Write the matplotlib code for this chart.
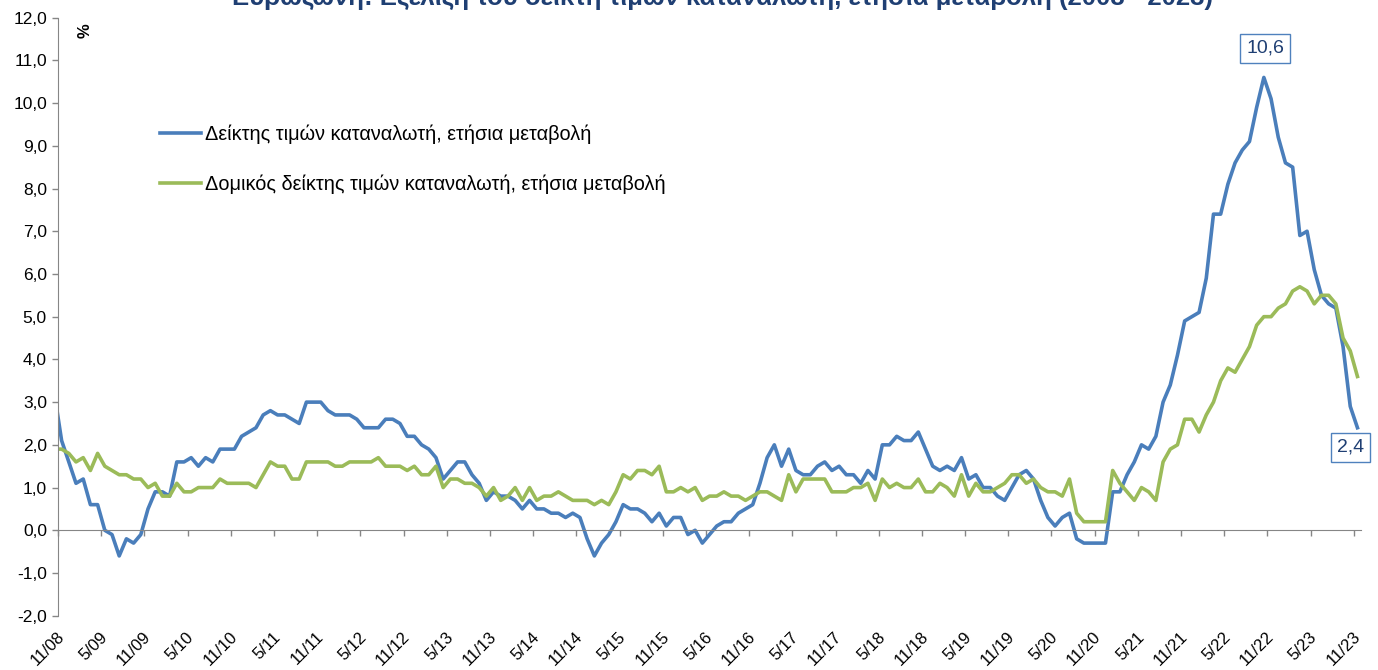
import numpy as np
import matplotlib
matplotlib.use("Agg")
import matplotlib.pyplot as plt
from matplotlib.ticker import FuncFormatter
from matplotlib.transforms import ScaledTranslation

plt.rcParams["font.family"] = ["Liberation Sans", "DejaVu Sans"]

# monthly data, 10/08 ... 11/23 (first month only partly visible)
cpi = [
    3.2, 2.1, 1.6,
    1.1, 1.2, 0.6, 0.6, 0.0, -0.1, -0.6, -0.2, -0.3, -0.1, 0.5, 0.9,
    0.9, 0.8, 1.6, 1.6, 1.7, 1.5, 1.7, 1.6, 1.9, 1.9, 1.9, 2.2,
    2.3, 2.4, 2.7, 2.8, 2.7, 2.7, 2.6, 2.5, 3.0, 3.0, 3.0, 2.8,
    2.7, 2.7, 2.7, 2.6, 2.4, 2.4, 2.4, 2.6, 2.6, 2.5, 2.2, 2.2,
    2.0, 1.9, 1.7, 1.2, 1.4, 1.6, 1.6, 1.3, 1.1, 0.7, 0.9, 0.8,
    0.8, 0.7, 0.5, 0.7, 0.5, 0.5, 0.4, 0.4, 0.3, 0.4, 0.3, -0.2,
    -0.6, -0.3, -0.1, 0.2, 0.6, 0.5, 0.5, 0.4, 0.2, 0.4, 0.1, 0.3,
    0.3, -0.1, 0.0, -0.3, -0.1, 0.1, 0.2, 0.2, 0.4, 0.5, 0.6, 1.1,
    1.7, 2.0, 1.5, 1.9, 1.4, 1.3, 1.3, 1.5, 1.6, 1.4, 1.5, 1.3,
    1.3, 1.1, 1.4, 1.2, 2.0, 2.0, 2.2, 2.1, 2.1, 2.3, 1.9, 1.5,
    1.4, 1.5, 1.4, 1.7, 1.2, 1.3, 1.0, 1.0, 0.8, 0.7, 1.0, 1.3,
    1.4, 1.2, 0.7, 0.3, 0.1, 0.3, 0.4, -0.2, -0.3, -0.3, -0.3, -0.3,
    0.9, 0.9, 1.3, 1.6, 2.0, 1.9, 2.2, 3.0, 3.4, 4.1, 4.9, 5.0,
    5.1, 5.9, 7.4, 7.4, 8.1, 8.6, 8.9, 9.1, 9.9, 10.6, 10.1, 9.2,
    8.6, 8.5, 6.9, 7.0, 6.1, 5.5, 5.3, 5.2, 4.3, 2.9, 2.4,
]
core = [
    1.9, 1.9, 1.8,
    1.6, 1.7, 1.4, 1.8, 1.5, 1.4, 1.3, 1.3, 1.2, 1.2, 1.0, 1.1,
    0.8, 0.8, 1.1, 0.9, 0.9, 1.0, 1.0, 1.0, 1.2, 1.1, 1.1, 1.1,
    1.1, 1.0, 1.3, 1.6, 1.5, 1.5, 1.2, 1.2, 1.6, 1.6, 1.6, 1.6,
    1.5, 1.5, 1.6, 1.6, 1.6, 1.6, 1.7, 1.5, 1.5, 1.5, 1.4, 1.5,
    1.3, 1.3, 1.5, 1.0, 1.2, 1.2, 1.1, 1.1, 1.0, 0.8, 1.0, 0.7,
    0.8, 1.0, 0.7, 1.0, 0.7, 0.8, 0.8, 0.9, 0.8, 0.7, 0.7, 0.7,
    0.6, 0.7, 0.6, 0.9, 1.3, 1.2, 1.4, 1.4, 1.3, 1.5, 0.9, 0.9,
    1.0, 0.9, 1.0, 0.7, 0.8, 0.8, 0.9, 0.8, 0.8, 0.7, 0.8, 0.9,
    0.9, 0.8, 0.7, 1.3, 0.9, 1.2, 1.2, 1.2, 1.2, 0.9, 0.9, 0.9,
    1.0, 1.0, 1.1, 0.7, 1.2, 1.0, 1.1, 1.0, 1.0, 1.2, 0.9, 0.9,
    1.1, 1.0, 0.8, 1.3, 0.8, 1.1, 0.9, 0.9, 1.0, 1.1, 1.3, 1.3,
    1.1, 1.2, 1.0, 0.9, 0.9, 0.8, 1.2, 0.4, 0.2, 0.2, 0.2, 0.2,
    1.4, 1.1, 0.9, 0.7, 1.0, 0.9, 0.7, 1.6, 1.9, 2.0, 2.6, 2.6,
    2.3, 2.7, 3.0, 3.5, 3.8, 3.7, 4.0, 4.3, 4.8, 5.0, 5.0, 5.2,
    5.3, 5.6, 5.7, 5.6, 5.3, 5.5, 5.5, 5.3, 4.5, 4.2, 3.6,
]
tick_labels = [
    "11/08", "5/09", "11/09", "5/10", "11/10", "5/11", "11/11", "5/12",
    "11/12", "5/13", "11/13", "5/14", "11/14", "5/15", "11/15", "5/16",
    "11/16", "5/17", "11/17", "5/18", "11/18", "5/19", "11/19", "5/20",
    "11/20", "5/21", "11/21", "5/22", "11/22", "5/23", "11/23",
]
label_cpi = "Δείκτης τιμών καταναλωτή, ετήσια μεταβολή"
label_core = "Δομικός δείκτης τιμών καταναλωτή, ετήσια μεταβολή"
title = "Ευρωζώνη: Εξέλιξη του δείκτη τιμών καταναλωτή, ετήσια μεταβολή (2008 - 2023)"

BLUE = "#4A7EBB"
GREEN = "#9BBB59"
GREY = "#868686"
NAVY = "#1F3F73"

x = np.arange(len(cpi))

fig = plt.figure(figsize=(13.78, 6.70), dpi=100)
ax = fig.add_axes([0.0421, 0.0810, 0.9456, 0.8927])

ax.plot(x, cpi, color=BLUE, lw=2.6, solid_joinstyle="round", label=label_cpi)
ax.plot(x, core, color=GREEN, lw=2.6, solid_joinstyle="round", label=label_core)

ax.set_xlim(0.5, len(cpi) - 0.5)
ax.set_ylim(-2, 12)
ax.set_yticks(np.arange(-2, 13, 1))
ax.yaxis.set_major_formatter(FuncFormatter(lambda v, p: f"{v:.1f}".replace(".", ",")))
ax.set_xticks(np.arange(len(tick_labels)) * 6 + 0.5, tick_labels)

for s in ["top", "right"]:
    ax.spines[s].set_visible(False)
ax.spines["left"].set_color(GREY)
ax.spines["bottom"].set_color(GREY)
ax.spines["bottom"].set_position(("data", 0))

ax.tick_params(axis="both", colors=GREY, labelcolor="black", length=4, width=1)
ax.tick_params(axis="y", pad=4, labelsize=12.5)
ax.tick_params(axis="x", pad=71, labelsize=12)
for lab in ax.get_xticklabels():
    lab.set_rotation(45)
    lab.set_ha("right")
    lab.set_va("center")
    lab.set_rotation_mode("anchor")
    lab.set_transform(lab.get_transform() + ScaledTranslation(0.04, 0, fig.dpi_scale_trans))

ax.text(0.0207, 0.979, "%", transform=ax.transAxes, rotation=90, fontsize=12,
        fontweight="bold", ha="center", va="center")

ax.legend(loc="upper left", bbox_to_anchor=(0.078, 0.822), frameon=False,
          fontsize=14.3, handlelength=2.1, handletextpad=0.2, labelspacing=1.57,
          borderpad=0, borderaxespad=0)

k = int(np.argmax(cpi))
box = dict(boxstyle="square,pad=0.3", fc="white", ec="#4F81BD", lw=1)
ax.annotate(f"{cpi[k]:.1f}".replace(".", ","), xy=(x[k], cpi[k]), xytext=(1, 21),
            textcoords="offset points", ha="center", va="center", fontsize=14,
            color=NAVY, bbox=box)
ax.annotate(f"{cpi[-1]:.1f}".replace(".", ","), xy=(x[-1], cpi[-1]), xytext=(-5, -14),
            textcoords="offset points", ha="center", va="center", fontsize=14,
            color=NAVY, bbox=box, annotation_clip=False)

fig.text(0.5243, 1 - 5 / 670, title, ha="center", va="baseline", fontsize=18.5,
         fontweight="bold", color=NAVY)

fig.savefig("out.png", dpi=100)
